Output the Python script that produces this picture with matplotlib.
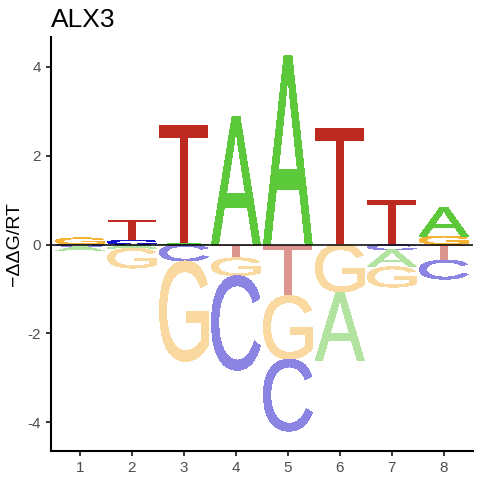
import matplotlib

matplotlib.use("Agg")

import matplotlib.pyplot as plt
from matplotlib.font_manager import FontProperties
from matplotlib.patches import PathPatch
from matplotlib.textpath import TextPath
from matplotlib.transforms import Affine2D

plt.rcParams["font.family"] = ["Liberation Sans", "DejaVu Sans"]
plt.rcParams["axes.unicode_minus"] = False

# energy logo values (-ddG/RT) per position
positions = [1, 2, 3, 4, 5, 6, 7, 8]
ddg_A = [-0.10, -0.08, 0.03, 2.88, 4.25, -1.53, -0.38, 0.64]
ddg_C = [-0.04, 0.10, -0.37, -2.13, -1.62, 0.0, -0.12, -0.43]
ddg_G = [0.15, -0.45, -2.26, -0.40, -1.43, -1.07, -0.46, 0.19]
ddg_T = [0.0, 0.45, 2.66, -0.30, -1.15, 2.62, 1.00, -0.35]

bases = ["A", "C", "G", "T"]
pos_colors = {"A": "#5CC93B", "C": "#1515C8", "G": "#F5B335", "T": "#BD2A1F"}
neg_colors = {"A": "#B3E3A0", "C": "#8B84E3", "G": "#FAD9A0", "T": "#DD968F"}

letter_font = FontProperties(family="Liberation Sans")


def draw_letter(ax, base, x, y0, height, color, width=0.94):
    path = TextPath((0, 0), base, size=1, prop=letter_font)
    ext = path.get_extents()
    transform = (
        Affine2D()
        .translate(-ext.x0, -ext.y0)
        .scale(width / ext.width, height / ext.height)
        .translate(x - width / 2, y0)
    )
    patch = PathPatch(
        transform.transform_path(path), facecolor=color, edgecolor="none",
        antialiased=False,
    )
    ax.add_patch(patch)


fig = plt.figure(figsize=(4.8, 4.8), dpi=100)
ax = fig.add_axes([0.106, 0.060, 0.879, 0.863])

values = {"A": ddg_A, "C": ddg_C, "G": ddg_G, "T": ddg_T}
for i, x in enumerate(positions):
    col = [(b, values[b][i]) for b in bases]
    # smallest letters sit next to zero, largest furthest out
    positive = sorted([c for c in col if c[1] > 0], key=lambda c: c[1])
    negative = sorted([c for c in col if c[1] < 0], key=lambda c: -c[1])
    top = 0.0
    for base, v in positive:
        draw_letter(ax, base, x, top, v, pos_colors[base])
        top += v
    bottom = 0.0
    for base, v in negative:
        draw_letter(ax, base, x, bottom + v, -v, neg_colors[base])
        bottom += v

ax.axhline(0, color="black", linewidth=1.1)

ax.set_xlim(0.44, 8.56)
ax.set_ylim(-4.65, 4.67)
ax.set_xticks(positions)
ax.set_xticklabels([str(p) for p in positions])
ax.set_yticks([-4, -2, 0, 2, 4])
ax.set_yticklabels(["-4", "-2", "0", "2", "4"])
ax.tick_params(labelsize=11, labelcolor="#4D4D4D", length=3.5, width=1.1,
               color="black")

for side in ("top", "right"):
    ax.spines[side].set_visible(False)
for side in ("left", "bottom"):
    ax.spines[side].set_linewidth(1.5)

ax.set_ylabel("\u2212\u0394\u0394G/RT", fontsize=14, labelpad=3)
ax.set_title("ALX3", loc="left", fontsize=19, pad=7)

fig.savefig("out.png", dpi=100)
